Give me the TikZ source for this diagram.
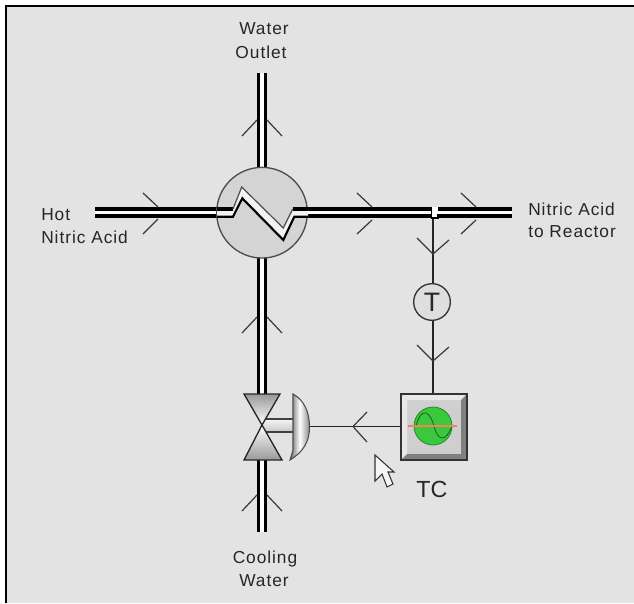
\documentclass[tikz,border=0pt]{standalone}
\usepackage{fontspec}
\setmainfont{Liberation Sans}
\newfontfamily\labfont[LetterSpace=5.5]{Liberation Sans}
\definecolor{lampgreen}{RGB}{60,200,60}
\definecolor{lampedge}{RGB}{30,140,40}
\definecolor{salmonline}{RGB}{245,130,90}
\tikzset{
  x=0.75pt,y=-0.75pt,
  pipeblack/.style={line width=8.2pt,draw=black},
  pipewhite/.style={line width=2.3pt,draw=white},
  sig/.style={line width=1.3pt,draw=black!85},
  barb/.style={line width=0.9pt,draw=black!78},
  lab/.style={font=\labfont\fontsize{13pt}{16pt}\selectfont,text=black!85,inner sep=0pt,align=left},
  labc/.style={lab,align=center},
}
\newcommand{\vbarbup}[2]{%
 \draw[barb] (#1-20,#2+16) -- (#1-5,#2);\draw[barb] (#1+20,#2+16) -- (#1+5,#2);}
\begin{document}
\begin{tikzpicture}
\useasboundingbox (0,0) rectangle (634,603);
\fill[white] (0,0) rectangle (634,603);
\fill[black!11] (6,6) rectangle (634,603);
\draw[black,line width=1pt] (6,603) -- (6,6) -- (634,6);
% pipes
\coordinate (wo) at (262,73);
\coordinate (hx) at (262,212.7);
\coordinate (hot) at (95,212.7);
\coordinate (out) at (512,212.7);
\coordinate (vb) at (262,394);
\coordinate (vt) at (262,460);
\coordinate (cw) at (262,532);
\draw[pipeblack] (wo) -- (hx);
\draw[pipewhite] (wo) -- (hx);
\draw[pipeblack] (hot) -- (out);
\draw[pipewhite] (hot) -- (out);
\draw[pipeblack] (hx) -- (vb);
\draw[pipewhite] (hx) -- (vb);
\draw[pipeblack] (vt) -- (cw);
\draw[pipewhite] (vt) -- (cw);
% tee
\draw[sig] (433,218) -- (433,394);
\fill[white] (432,207) rectangle (438,217);
\draw[black,line width=0.9pt] (431.5,208) -- (431.5,218) -- (438,218) -- (438,214);
% barbs on process lines
\vbarbup{262}{120}
\vbarbup{262}{317}
\vbarbup{262}{495}
\draw[barb] (143,193) -- (158,207);\draw[barb] (143,234) -- (158,219);
\draw[barb] (357,193) -- (372,207);\draw[barb] (357,234) -- (372,220);
\draw[barb] (461,193) -- (476,207);\draw[barb] (461,234) -- (476,220);
\draw[barb] (417,238) -- (433,254) -- (449,240);
\draw[barb] (417,345) -- (433,361) -- (449,347);
% exchanger
\node[circle,draw=black!70,fill=black!17,line width=1pt,minimum size=68pt,inner sep=0pt] (ex) at (hx) {};
\fill[white!95!black] (217,209) -- (233,209) -- (241.7,187) -- (283.3,228) -- (292.7,209) -- (308,209) -- (308,216.7) -- (294.3,216.7) -- (283.3,240) -- (242.3,198.3) -- (233,216.7) -- (217,216.7) -- cycle;
\draw[black,line width=2.8pt] (217,209) -- (233,209);
\draw[black,line width=2.8pt] (292.7,209) -- (308,209);
\draw[black!70,line width=0.9pt] (233,209) -- (241.7,187) -- (283.3,228) -- (292.7,209);
\draw[black,line width=1.6pt,line join=miter] (217,216.7) -- (233,216.7) -- (242.3,198.3) -- (283.3,240) -- (294.3,216.7) -- (308,216.7);
% sensor
\node[circle,draw=black!80,fill=black!13,line width=1pt,minimum size=27.5pt,inner sep=0pt,font=\fontsize{20pt}{20pt}\selectfont,text=black!85] (T) at (432,302) {T};
% controller
\fill[black!19] (401,394) rectangle (467,460);
\fill[black!9] (401,394) -- (467,394) -- (461,400) -- (407,400) -- (407,454) -- (401,460) -- cycle;
\fill[black!50] (467,394) -- (467,460) -- (401,460) -- (407,454) -- (461,454) -- (461,400) -- cycle;
\node[draw=black!80,line width=1.2pt,minimum size=49.5pt,inner sep=0pt] (tc) at (434,427) {};
\node[circle,fill=lampgreen,draw=lampedge,line width=0.6pt,minimum size=28.5pt,inner sep=0pt] (lamp) at (433,426) {};
\draw[lampedge!70!black,line width=0.6pt] (416,426) .. controls (422,405) and (430,412) .. (434,426) .. controls (438,442) and (446,442) .. (452,426);
\draw[salmonline,line width=1pt] (408,426) -- (457,426);
\node[font=\fontsize{17.5pt}{18pt}\selectfont,text=black!85,inner sep=0pt] (tctext) at (432,489) {TC};
% actuator line
\coordinate (sl) at (401,426.5);
\coordinate (al) at (310,426.5);
\draw[sig] (sl) -- (al);
\draw[barb] (367,412) -- (353,426.5) -- (367,442);
% stem
\shade[top color=black!4,bottom color=black!22] (263,419) rectangle (293,432);
\draw[black!75,line width=0.8pt] (263,419) -- (293,419) (263,432) -- (293,432);
% actuator dome
\shade[left color=black!60,right color=black!45,middle color=white,draw=black!70,line width=0.8pt] (293,394) .. controls (304,400) and (309.5,412) .. (309.5,427) .. controls (309.5,442) and (303,452) .. (290,460) -- (293,450) -- cycle;
% valve
\shade[top color=black!40,bottom color=white,draw=black!85,line width=1pt] (244,394) -- (280,394) -- (262,425) -- cycle;
\shade[top color=white,bottom color=black!40,draw=black!85,line width=1pt] (262,425) -- (282,460) -- (244,460) -- cycle;
% cursor
\draw[black!80,fill=black!4,line width=0.8pt] (375,455) -- (375,481) -- (382,474) -- (387,487) -- (393,484) -- (388,472) -- (394,472) -- cycle;
% labels
\node[labc] (l1) at (264,29) {Water};
\node[labc] (l2) at (261,52) {Outlet};
\node[lab,anchor=west] (l3) at (41,214.5) {Hot};
\node[lab,anchor=west] (l4) at (41,237) {Nitric Acid};
\node[lab,anchor=west] (l5) at (528,209) {Nitric Acid};
\node[lab,anchor=west] (l6) at (528,232) {to Reactor};
\node[labc] (l7) at (265,559) {Cooling};
\node[labc] (l8) at (264,581) {Water};
\end{tikzpicture}
\end{document}
